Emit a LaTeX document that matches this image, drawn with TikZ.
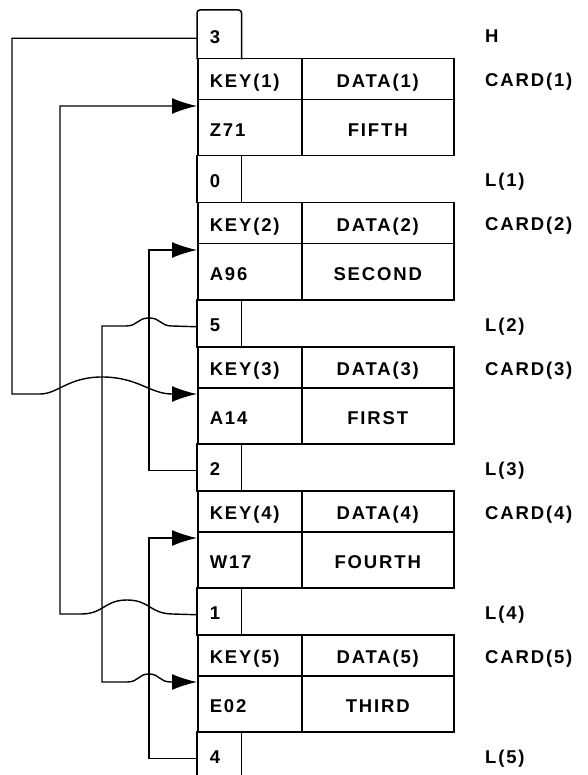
\documentclass[tikz,border=0pt]{standalone}
\usepackage{fontspec}
\newfontfamily\cardfont{Liberation Sans}[LetterSpace=10, UprightFont=*-Bold]
\usetikzlibrary{arrows.meta,calc}

\tikzset{
  box/.style={line width=1.5pt},
  cell/.style={box, draw, anchor=north west, inner ysep=0pt,
    text height=17pt, text depth=0pt,
    font=\cardfont\fontsize{18.5pt}{20pt}\selectfont},
  keyhead/.style={cell, inner xsep=12pt, text width=80pt, align=left, minimum height=41pt},
  keyval/.style={keyhead, minimum height=56pt},
  datahead/.style={cell, minimum width=152pt, minimum height=41pt},
  dataval/.style={datahead, minimum height=56pt},
  linkbox/.style={cell, draw=none, inner xsep=12pt, text width=19pt, align=left, minimum height=47pt},
  rlabel/.style={anchor=west, inner sep=0pt, text height=17pt, text depth=0pt,
    font=\cardfont\fontsize{18.5pt}{20pt}\selectfont},
  nextptr/.style={line width=1.4pt, -{Latex[length=25pt,width=16pt]}},
}

\begin{document}
\begin{tikzpicture}[x=1pt, y=-1pt]
  \useasboundingbox (0,0) rectangle (587,775);

  % list head
  \node[linkbox, minimum height=48pt] (lH) at (197,10) {3};
  \draw[box, rounded corners=3pt] (lH.south west) -- (lH.north west) -- (lH.north east) -- (lH.south east);

  % card 1
  \node[keyhead] (kh1) at (197,58) {KEY(1)};
  \node[datahead] (dh1) at (301,58) {DATA(1)};
  \node[keyval] (kv1) at (197,99) {Z71};
  \node[dataval] (dv1) at (301,99) {FIFTH};
  \node[linkbox] (l1) at (197,155) {0};
  \draw[box] (l1.north west) -- (l1.south west) (l1.north east) -- (l1.south east);

  % card 2
  \node[keyhead] (kh2) at (197,202) {KEY(2)};
  \node[datahead] (dh2) at (301,202) {DATA(2)};
  \node[keyval] (kv2) at (197,243) {A96};
  \node[dataval] (dv2) at (301,243) {SECOND};
  \node[linkbox] (l2) at (197,299) {5};
  \draw[box] (l2.north west) -- (l2.south west) (l2.north east) -- (l2.south east);

  % card 3
  \node[keyhead] (kh3) at (197,346) {KEY(3)};
  \node[datahead] (dh3) at (301,346) {DATA(3)};
  \node[keyval] (kv3) at (197,387) {A14};
  \node[dataval] (dv3) at (301,387) {FIRST};
  \node[linkbox] (l3) at (197,443) {2};
  \draw[box] (l3.north west) -- (l3.south west) (l3.north east) -- (l3.south east);

  % card 4
  \node[keyhead] (kh4) at (197,490) {KEY(4)};
  \node[datahead] (dh4) at (301,490) {DATA(4)};
  \node[keyval] (kv4) at (197,531) {W17};
  \node[dataval] (dv4) at (301,531) {FOURTH};
  \node[linkbox] (l4) at (197,587) {1};
  \draw[box] (l4.north west) -- (l4.south west) (l4.north east) -- (l4.south east);

  % card 5
  \node[keyhead] (kh5) at (197,634) {KEY(5)};
  \node[datahead] (dh5) at (301,634) {DATA(5)};
  \node[keyval] (kv5) at (197,675) {E02};
  \node[dataval] (dv5) at (301,675) {THIRD};
  \node[linkbox] (l5) at (197,731) {4};
  \draw[box] (l5.north west) -- (l5.south west) (l5.north east) -- (l5.south east);

  % names on the right
  \node[rlabel] (tH) at (485,34) {H};
  \node[rlabel] (tc1) at (485,78.5) {CARD(1)};
  \node[rlabel] (tl1) at (485,178.5) {L(1)};
  \node[rlabel] (tc2) at (485,222.5) {CARD(2)};
  \node[rlabel] (tl2) at (485,322.5) {L(2)};
  \node[rlabel] (tc3) at (485,366.5) {CARD(3)};
  \node[rlabel] (tl3) at (485,466.5) {L(3)};
  \node[rlabel] (tc4) at (485,510.5) {CARD(4)};
  \node[rlabel] (tl4) at (485,610.5) {L(4)};
  \node[rlabel] (tc5) at (485,654.5) {CARD(5)};
  \node[rlabel] (tl5) at (485,754.5) {L(5)};

  % pointers
  \draw[nextptr] ($(lH.west)+(0,3.5)$) -| (12,394) -- (40,394)
    .. controls (58,394) and (68,377) .. (102,377)
    .. controls (138,377) and (150,394) .. (172,394) -- ($(kv3.north west)+(0,7)$);
  \draw[nextptr] ($(l3.west)+(0,3.5)$) -| (149,250) -- ($(kv2.north west)+(0,7)$);
  \draw[nextptr] ($(l2.west)+(0,3.5)$) -- (172,326)
    .. controls (160,326) and (161,318) .. (149,318)
    .. controls (137,318) and (138,326) .. (126,326) -| (102,682) -- (127,682)
    .. controls (139,682) and (138,674) .. (149,674)
    .. controls (160,674) and (159,682) .. (171,682) -- ($(kv5.north west)+(0,7)$);
  \draw[nextptr] ($(l5.west)+(0,3.5)$) -| (149,538) -- ($(kv4.north west)+(0,7)$);
  \draw[nextptr] ($(l4.west)+(0,3.5)$) -- (173,614)
    .. controls (150,614) and (150,600) .. (127,600)
    .. controls (104,600) and (104,614) .. (81,614) -| (60,106) -- ($(kv1.north west)+(0,7)$);
\end{tikzpicture}
\end{document}
